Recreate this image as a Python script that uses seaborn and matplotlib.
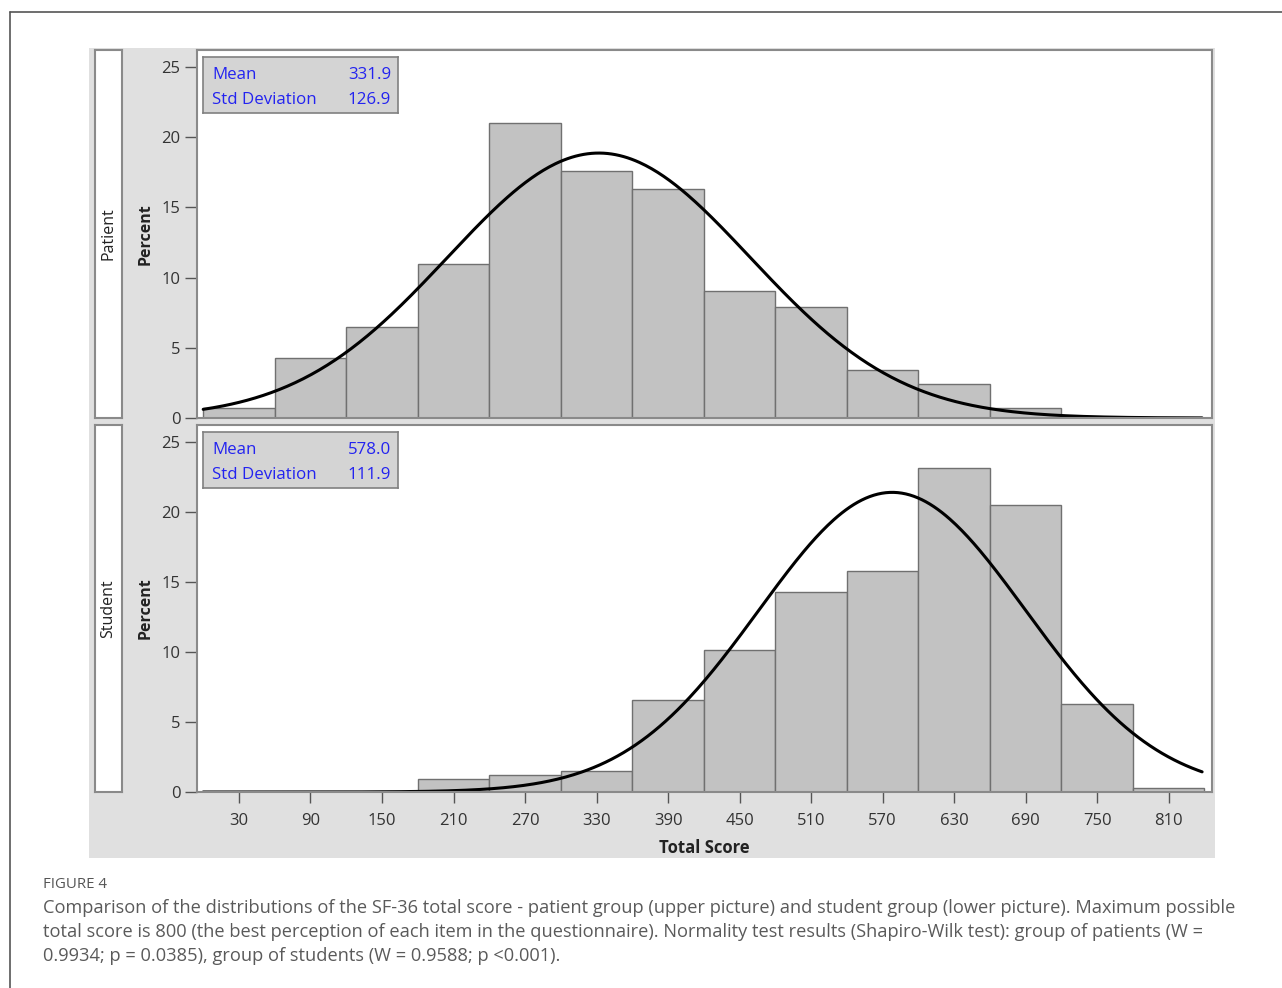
import numpy as np
import pandas as pd
import matplotlib
matplotlib.use("Agg")
import matplotlib.pyplot as plt
from matplotlib.patches import Rectangle
from matplotlib.lines import Line2D
import seaborn as sns

sns.set_theme(style="white")
plt.rcParams['font.family'] = ['Open Sans', 'DejaVu Sans']

# ---- data ----
bin_centers = [30, 90, 150, 210, 270, 330, 390, 450, 510, 570, 630, 690, 750, 810]
patient_pct = [0.7, 4.3, 6.45, 10.95, 21.0, 17.55, 16.3, 9.05, 7.9, 3.45, 2.4, 0.7, 0.0, 0.0]
student_pct = [0.0, 0.0, 0.0, 0.93, 1.2, 1.5, 6.6, 10.15, 14.3, 15.8, 23.15, 20.5, 6.3, 0.3]
patient_mean, patient_sd = 331.9, 126.9
student_mean, student_sd = 578.0, 111.9
group_labels = ["Patient", "Student"]
xtick_vals = [30, 90, 150, 210, 270, 330, 390, 450, 510, 570, 630, 690, 750, 810]
ytick_vals = [0, 5, 10, 15, 20, 25]
bin_width = 60
caption_title = "FIGURE 4"
caption_lines = [
    "Comparison of the distributions of the SF-36 total score - patient group (upper picture) and student group (lower picture). Maximum possible",
    "total score is 800 (the best perception of each item in the questionnaire). Normality test results (Shapiro-Wilk test): group of patients (W =",
    "0.9934; p = 0.0385), group of students (W = 0.9588; p <0.001).",
]

W, H = 1282, 988
fig = plt.figure(figsize=(W / 100, H / 100), dpi=100)
fig.patch.set_facecolor("white")


def rect(x0, y0, x1, y1):
    return [x0 / W, 1 - y1 / H, (x1 - x0) / W, (y1 - y0) / H]


# outer border lines
fig.add_artist(Line2D([10 / W, 10 / W], [0, 1 - 12 / H], transform=fig.transFigure, color="#555555", lw=1.2))
fig.add_artist(Line2D([10 / W, 1.0], [1 - 12 / H, 1 - 12 / H], transform=fig.transFigure, color="#555555", lw=1.2))

# gray chart background
x0, y0, x1, y1 = 89, 48, 1215, 858
fig.add_artist(Rectangle((x0 / W, 1 - y1 / H), (x1 - x0) / W, (y1 - y0) / H,
                         transform=fig.transFigure, facecolor="#e0e0e0", edgecolor="none", zorder=-5))

panels = [
    (group_labels[0], patient_pct, patient_mean, patient_sd, 50, 418),
    (group_labels[1], student_pct, student_mean, student_sd, 425, 792),
]
xgrid = np.linspace(0, 838, 500)

for i, (label, pct, mu, sd, top, bot) in enumerate(panels):
    ax = fig.add_axes(rect(197, top, 1212, bot))
    ax.set_facecolor("white")
    df = pd.DataFrame({"score": bin_centers, "pct": pct})
    sns.histplot(data=df, x="score", weights="pct", binwidth=bin_width, binrange=(0, 840), ax=ax,
                 color="#c2c2c2", edgecolor="#707070", linewidth=1.0, alpha=1.0)
    curve = pd.DataFrame({"x": xgrid,
                          "y": 100 * bin_width * np.exp(-0.5 * ((xgrid - mu) / sd) ** 2) / (sd * np.sqrt(2 * np.pi))})
    sns.lineplot(data=curve, x="x", y="y", ax=ax, color="black", lw=2.2)
    ax.set_xlim(-5.2, 846.3)
    ax.set_ylim(0, 26.2)
    ax.set_yticks(ytick_vals)
    ax.set_yticklabels([str(v) for v in ytick_vals], fontsize=12, color="#333333")
    ax.set_ylabel("Percent", fontsize=11.5, fontweight="bold", color="#222222")
    ax.yaxis.set_label_coords((154 - 197) / 1015, 0.5)
    for s in ax.spines.values():
        s.set_color("#8a8a8a")
        s.set_linewidth(1.5)
    ax.tick_params(axis="y", length=9, width=1, color="#555555", left=True, pad=3)
    if i == 1:
        ax.set_xticks(xtick_vals)
        ax.set_xticklabels([str(v) for v in xtick_vals], fontsize=12, color="#333333")
        ax.tick_params(axis="x", length=8, width=1, color="#555555", bottom=True, pad=7)
        ax.set_xlabel("Total Score", fontsize=12, fontweight="bold", color="#222222", labelpad=7)
    else:
        ax.set_xticks([])
        ax.set_xlabel("")

    # stats box
    bx = fig.add_axes(rect(203, top + 7, 398, top + 63))
    bx.set_facecolor("#d4d4d4")
    bx.set_xticks([]); bx.set_yticks([])
    for s in bx.spines.values():
        s.set_color("#808080"); s.set_linewidth(1.2)
    fs = 12.2
    bx.text(9 / 195, 0.68, "Mean", color="#2323f0", fontsize=fs, va="center", ha="left", transform=bx.transAxes)
    bx.text(188 / 195, 0.68, f"{mu:.1f}", color="#2323f0", fontsize=fs, va="center", ha="right", transform=bx.transAxes)
    bx.text(9 / 195, 0.24, "Std Deviation", color="#2323f0", fontsize=fs, va="center", ha="left", transform=bx.transAxes)
    bx.text(188 / 195, 0.24, f"{sd:.1f}", color="#2323f0", fontsize=fs, va="center", ha="right", transform=bx.transAxes)

    # strip label
    sx = fig.add_axes(rect(95, top, 122, bot))
    sx.set_facecolor("white")
    sx.set_xticks([]); sx.set_yticks([])
    for s in sx.spines.values():
        s.set_color("#8a8a8a"); s.set_linewidth(1.5)
    sx.text(0.5, 0.5, label, rotation=90, ha="center", va="center", fontsize=11.5, color="#222222",
            transform=sx.transAxes)

# caption
fig.text(43 / W, 1 - 884 / H, caption_title, fontsize=10.8, color="#555555", va="center", ha="left")
for k, line in enumerate(caption_lines):
    fig.text(43 / W, 1 - (908 + 24 * k) / H, line, fontsize=13.15, color="#5a5a5a", va="center", ha="left")

fig.savefig("out.png", dpi=100)
